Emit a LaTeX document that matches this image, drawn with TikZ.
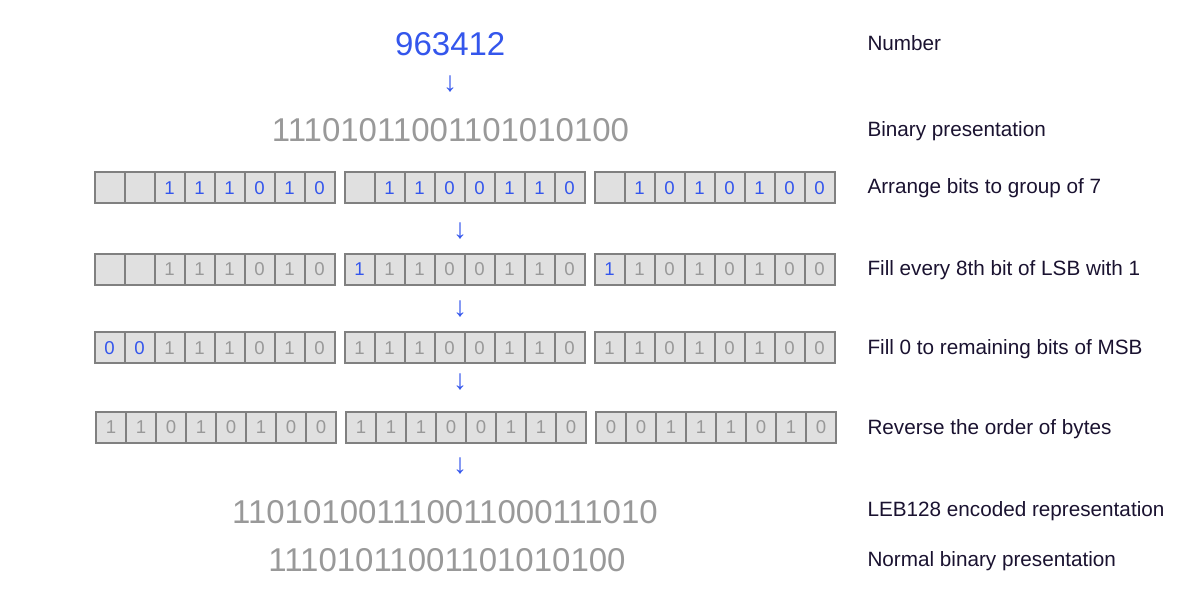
\documentclass[tikz,border=0pt]{standalone}
\usepackage{fontspec}
\setmainfont{Liberation Sans}
\definecolor{cb}{RGB}{52,86,236}
\definecolor{cg}{RGB}{153,153,153}
\definecolor{cellfill}{RGB}{224,224,224}
\definecolor{cellborder}{RGB}{128,128,128}
\definecolor{labelcol}{RGB}{26,18,48}
\tikzset{
  cell/.style={draw=cellborder, fill=cellfill, line width=2pt, minimum width=30pt,
    minimum height=31pt, inner sep=0pt, font=\fontsize{18.6}{20}\selectfont},
  bigtext/.style={inner sep=0pt, font=\fontsize{33}{38}\selectfont},
  arrowtext/.style={inner sep=0pt, text=cb, font=\fontsize{28}{30}\selectfont},
  steplabel/.style={inner sep=0pt, anchor=base west, text=labelcol, font=\fontsize{20.7}{24}\selectfont}
}
\newcommand{\bitgroup}[4]{%
  \foreach \c/\d [count=\i] in {#4} {
    \node[cell, text=\c] (#1-\i) at ({#2+15+30*(\i-1)},#3) {\d};
  }%
}
\begin{document}
\begin{tikzpicture}[x=1pt,y=-1pt]
\useasboundingbox (0,0) rectangle (1201,601);
% top texts
\node[bigtext, text=cb] (num) at (450.3,43.8) {963412};
\node[arrowtext] (a0) at (450,84) {↓};
\node[bigtext, text=cg] (bin) at (450.5,130.5) {11101011001101010100};
% row 1
\bitgroup{r1g1}{94.5}{187.8}{cg/,cg/,cb/1,cb/1,cb/1,cb/0,cb/1,cb/0}
\bitgroup{r1g2}{344.5}{187.8}{cg/,cb/1,cb/1,cb/0,cb/0,cb/1,cb/1,cb/0}
\bitgroup{r1g3}{594.5}{187.8}{cg/,cb/1,cb/0,cb/1,cb/0,cb/1,cb/0,cb/0}
\node[arrowtext] (a1) at (460,231) {↓};
% row 2
\bitgroup{r2g1}{94.5}{269.2}{cg/,cg/,cg/1,cg/1,cg/1,cg/0,cg/1,cg/0}
\bitgroup{r2g2}{344.5}{269.2}{cb/1,cg/1,cg/1,cg/0,cg/0,cg/1,cg/1,cg/0}
\bitgroup{r2g3}{594.5}{269.2}{cb/1,cg/1,cg/0,cg/1,cg/0,cg/1,cg/0,cg/0}
\node[arrowtext] (a2) at (460,309) {↓};
% row 3
\bitgroup{r3g1}{94.5}{347.7}{cb/0,cb/0,cg/1,cg/1,cg/1,cg/0,cg/1,cg/0}
\bitgroup{r3g2}{344.5}{347.7}{cg/1,cg/1,cg/1,cg/0,cg/0,cg/1,cg/1,cg/0}
\bitgroup{r3g3}{594.5}{347.7}{cg/1,cg/1,cg/0,cg/1,cg/0,cg/1,cg/0,cg/0}
\node[arrowtext] (a3) at (460,382.5) {↓};
% row 4
\bitgroup{r4g1}{96}{427.3}{cg/1,cg/1,cg/0,cg/1,cg/0,cg/1,cg/0,cg/0}
\bitgroup{r4g2}{346}{427.3}{cg/1,cg/1,cg/1,cg/0,cg/0,cg/1,cg/1,cg/0}
\bitgroup{r4g3}{596}{427.3}{cg/0,cg/0,cg/1,cg/1,cg/1,cg/0,cg/1,cg/0}
\node[arrowtext] (a4) at (460,466) {↓};
% bottom texts
\node[bigtext, text=cg] (leb) at (445,512) {110101001110011000111010};
\node[bigtext, text=cg] (nbin) at (447,560) {11101011001101010100};
% labels
\node[steplabel] (l0) at (867.3,50.7) {Number};
\node[steplabel] (l1) at (867.3,136.7) {Binary presentation};
\node[steplabel] (l2) at (867.3,194) {Arrange bits to group of 7};
\node[steplabel] (l3) at (867.3,276) {Fill every 8th bit of LSB with 1};
\node[steplabel] (l4) at (867.3,354) {Fill 0 to remaining bits of MSB};
\node[steplabel] (l5) at (867.3,434) {Reverse the order of bytes};
\node[steplabel] (l6) at (867.3,516.7) {LEB128 encoded representation};
\node[steplabel] (l7) at (867.3,566.7) {Normal binary presentation};
\end{tikzpicture}
\end{document}
